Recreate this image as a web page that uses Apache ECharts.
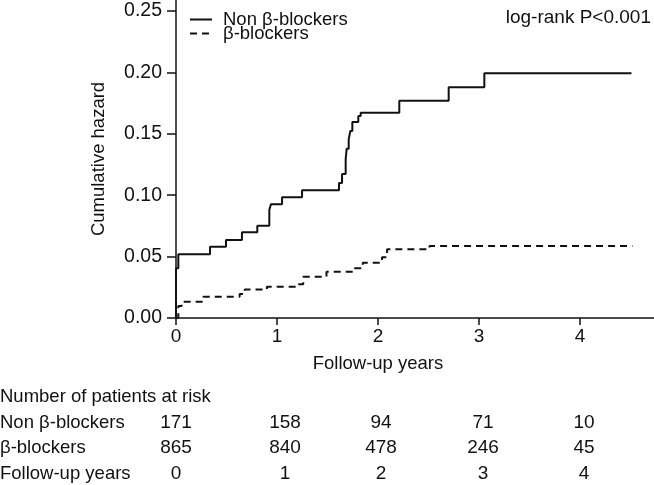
<!DOCTYPE html>
<html>
<head>
<meta charset="utf-8">
<script src="https://cdn.jsdelivr.net/npm/echarts@6/dist/echarts.min.js"></script>
<style>
  html, body { margin: 0; padding: 0; background: #fff; }
  #chart { width: 654px; height: 485px; }
</style>
</head>
<body>
<div id="chart"></div>
<script>
// cumulative hazard steps, [year, hazard] (value holds from that year on)
const nonBlockers = [
  [0, 0], [0, 0.0405], [0.023, 0.052], [0.337, 0.058], [0.495, 0.0635], [0.653, 0.0698],
  [0.805, 0.0752], [0.924, 0.088], [0.94, 0.0926], [1.05, 0.0983], [1.248, 0.104],
  [1.614, 0.110], [1.644, 0.1173], [1.68, 0.1292], [1.69, 0.1379], [1.71, 0.1455],
  [1.726, 0.1523], [1.746, 0.1596], [1.805, 0.1645], [1.829, 0.1672], [2.211, 0.177],
  [2.70, 0.1879], [3.053, 0.1993], [4.51, 0.1993]
];
const blockers = [
  [0, 0], [0.023, 0.0098], [0.056, 0.0133], [0.27, 0.0173], [0.63, 0.0195], [0.68, 0.0232],
  [0.90, 0.0255], [1.21, 0.0275], [1.26, 0.0336], [1.49, 0.0377], [1.77, 0.0405],
  [1.85, 0.045], [2.04, 0.0494], [2.09, 0.0559], [2.51, 0.0586], [4.52, 0.0586]
];
const seriesNames = ["Non \u03b2-blockers", "\u03b2-blockers"];
const yTicks = [0, 0.05, 0.10, 0.15, 0.20, 0.25];
const xTicks = [0, 1, 2, 3, 4];

// number at risk table
const riskYears = [0, 1, 2, 3, 4];
const riskNon = [171, 158, 94, 71, 10];
const riskBeta = [865, 840, 478, 246, 45];
const riskRowLabels = ["Non \u03b2-blockers", "\u03b2-blockers", "Follow-up years"];

const FONT = "'Liberation Sans', Arial, Helvetica, sans-serif";
const INK = "#111";

const chart = echarts.init(document.getElementById("chart"), null, { renderer: "canvas" });

chart.setOption({
  animation: false,
  backgroundColor: "#fff",
  textStyle: { fontFamily: FONT, color: INK },
  grid: { left: 176, right: 0, top: 0, height: 318 },
  legend: {
    left: 184,
    top: 5,
    orient: "vertical",
    itemWidth: 22,
    itemHeight: 10,
    itemGap: -5,
    itemStyle: { opacity: 0 },
    textStyle: { fontFamily: FONT, fontSize: 18.5, lineHeight: 16, color: INK, padding: [0, 0, 0, 6] },
    data: seriesNames
  },
  xAxis: {
    type: "value",
    min: 0,
    max: 4.733,
    splitLine: { show: false },
    axisLine: { lineStyle: { color: INK, width: 1.5 } },
    axisTick: { show: true, length: 7, customValues: xTicks, lineStyle: { color: INK, width: 1.5 } },
    axisLabel: { customValues: xTicks, margin: 9, fontSize: 19, color: INK, fontFamily: FONT }
  },
  yAxis: {
    type: "value",
    min: 0,
    max: 0.259,
    name: "Cumulative hazard",
    nameLocation: "middle",
    nameGap: 68,
    nameTextStyle: { fontSize: 18.5, color: INK, fontFamily: FONT },
    splitLine: { show: false },
    axisLine: { show: true, lineStyle: { color: INK, width: 1.5 } },
    axisTick: { show: true, length: 9, customValues: yTicks, lineStyle: { color: INK, width: 1.5 } },
    axisLabel: {
      customValues: yTicks, margin: 14, fontSize: 19.5, color: INK, fontFamily: FONT,
      formatter: (v) => v.toFixed(2)
    }
  },
  series: [
    {
      name: seriesNames[0],
      type: "line",
      step: "end",
      symbol: "none",
      data: nonBlockers,
      lineStyle: { color: INK, width: 2 },
      itemStyle: { color: INK }
    },
    {
      name: seriesNames[1],
      type: "line",
      step: "end",
      symbol: "none",
      data: blockers,
      lineStyle: { color: INK, width: 2, type: [7, 5] },
      itemStyle: { color: INK }
    }
  ]
});

// texts placed from the axis scale
const colShift = [0, 8, 3, 4, 4];
const px = (yr) => chart.convertToPixel({ xAxisIndex: 0 }, yr);
const txt = (x, y, text, align, size) => ({
  type: "text",
  x: x,
  y: y,
  style: {
    text: text,
    font: (size || 18.5) + "px " + FONT,
    fill: INK,
    align: align || "center",
    verticalAlign: "middle"
  }
});

const graphics = [
  txt(651, 18, "log-rank P<0.001", "right", 19),
  txt(px(2), 364, "Follow-up years"),
  txt(0, 397, "Number of patients at risk", "left")
];
const rowY = [423, 448, 474];
riskRowLabels.forEach((label, i) => graphics.push(txt(0, rowY[i], label, "left")));
riskYears.forEach((yr, i) => {
  const x = px(yr) + colShift[i];
  graphics.push(txt(x, rowY[0], String(riskNon[i]), "center", 19));
  graphics.push(txt(x, rowY[1], String(riskBeta[i]), "center", 19));
  graphics.push(txt(x, rowY[2], String(yr), "center", 19));
});
chart.setOption({ graphic: graphics });
</script>
</body>
</html>
